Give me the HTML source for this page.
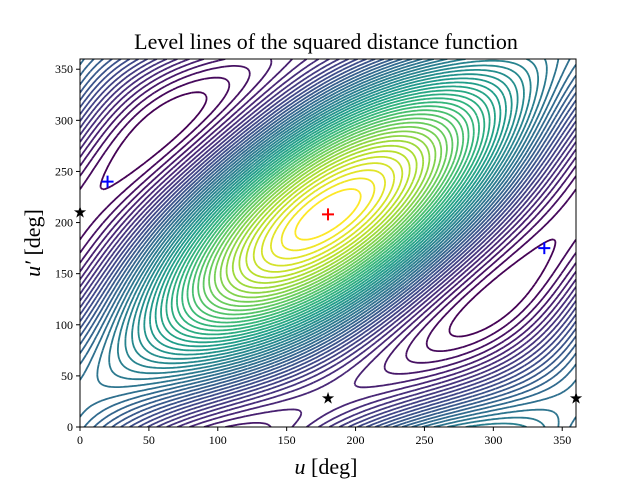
<!DOCTYPE html>
<html><head><meta charset="utf-8"><style>
body{margin:0;background:#fff;width:640px;height:480px;overflow:hidden}
text{font-family:"Liberation Serif",serif}
</style></head><body>
<svg id="chart" width="640" height="480" xmlns="http://www.w3.org/2000/svg">
<rect width="640" height="480" fill="#fff"/>
<text x="326" y="49" text-anchor="middle" font-size="22">Level lines of the squared distance function</text>
<text x="326" y="474" text-anchor="middle" font-size="22"><tspan font-style="italic">u</tspan> [deg]</text>
<text transform="translate(40,243) rotate(-90)" text-anchor="middle" font-size="22"><tspan font-style="italic">u′</tspan> [deg]</text>
<defs><clipPath id="clip"><rect x="80" y="59" width="496" height="368"/></clipPath></defs>
<g id="contours" clip-path="url(#clip)"></g>
<g id="markers"></g>
<rect x="80" y="59" width="496" height="368" fill="none" stroke="#000" stroke-width="1"/>
<g id="ticks"></g>
</svg>
<script>
// f = c*cos(u-v+phi) + a*cos(u-ua) + b*cos(v-vb) + d*cos(u+v-s)
const coefC=[1.0, 28];
const coefA=[0.55, 180];
const coefB=[0.42, 208];
const coefD=[0.034, 208];
const nLevels=48;
const xTicks=[0,50,100,150,200,250,300,350];
const yTicks=[0,50,100,150,200,250,300,350];
const redPlus=[[180,208]];
const bluePlus=[[20,240],[337,175]];
const stars=[[0,210],[180,28],[360,28]];

const X0=80,X1=576,Y0=427,Y1=59;
const sx=v=>X0+(X1-X0)*v/360, sy=v=>Y0-(Y0-Y1)*v/360;
const R=Math.PI/180;
function f(u,v){return coefC[0]*Math.cos((u-v+coefC[1])*R)+coefA[0]*Math.cos((u-coefA[1])*R)+coefB[0]*Math.cos((v-coefB[1])*R)+coefD[0]*Math.cos((u+v-coefD[1])*R);}
const vir=["#440154","#482878","#3e4989","#31688e","#26828e","#1f9e89","#35b779","#6ece58","#b5de2b","#fde725"];
function hx(h){return [1,3,5].map(i=>parseInt(h.substr(i,2),16));}
function col(t){t=Math.max(0,Math.min(1,t))*(vir.length-1);const i=Math.min(Math.floor(t),vir.length-2),fr=t-i;const a=hx(vir[i]),b=hx(vir[i+1]);return `rgb(${a.map((x,k)=>Math.round(x+(b[k]-x)*fr)).join(',')})`;}
const N=240,step=360/N,G=[];
let mn=1e9,mx=-1e9;
for(let j=0;j<=N;j++){G[j]=[];for(let i=0;i<=N;i++){const z=f(i*step,j*step);G[j][i]=z;mn=Math.min(mn,z);mx=Math.max(mx,z);}}
const svgNS="http://www.w3.org/2000/svg",g=document.getElementById('contours');
for(let k=1;k<=nLevels;k++){
 const L=mn+(mx-mn)*k/(nLevels+1);let d="";
 for(let j=0;j<N;j++)for(let i=0;i<N;i++){
  const z=[G[j][i],G[j][i+1],G[j+1][i+1],G[j+1][i]];
  const p=[[i,j],[i+1,j],[i+1,j+1],[i,j+1]];const pts=[];
  for(let e=0;e<4;e++){const a=z[e],b=z[(e+1)%4];if((a<L)!==(b<L)){const t=(L-a)/(b-a);const pa=p[e],pb=p[(e+1)%4];pts.push([(pa[0]+(pb[0]-pa[0])*t)*step,(pa[1]+(pb[1]-pa[1])*t)*step]);}}
  for(let q=0;q+1<pts.length;q+=2)d+=`M${sx(pts[q][0]).toFixed(1)},${sy(pts[q][1]).toFixed(1)}L${sx(pts[q+1][0]).toFixed(1)},${sy(pts[q+1][1]).toFixed(1)}`;
 }
 const path=document.createElementNS(svgNS,'path');
 
 
 path.setAttribute('d',d);path.setAttribute('stroke',col((k-1)/(nLevels-1)));path.setAttribute('stroke-width','1.8');path.setAttribute('fill','none');
 g.appendChild(path);
}
const m=document.getElementById('markers');
function plus(p,c){const el=document.createElementNS(svgNS,'path');
 
 
 const x=sx(p[0]),y=sy(p[1]);el.setAttribute('d',`M${x-6},${y}H${x+6}M${x},${y-6}V${y+6}`);el.setAttribute('stroke',c);el.setAttribute('stroke-width','2');m.appendChild(el);}
redPlus.forEach(p=>plus(p,'#f00'));bluePlus.forEach(p=>plus(p,'#00f'));
stars.forEach(p=>{const el=document.createElementNS(svgNS,'text');
 
 
 el.setAttribute('x',sx(p[0]));el.setAttribute('y',sy(p[1])+5);el.setAttribute('text-anchor','middle');el.setAttribute('font-size','16');el.setAttribute('style','font-family:"DejaVu Sans",sans-serif');el.textContent='★';m.appendChild(el);});
const t=document.getElementById('ticks');
xTicks.forEach(v=>{const x=sx(v);const l=document.createElementNS(svgNS,'line');
 
 
 l.setAttribute('x1',x);l.setAttribute('x2',x);l.setAttribute('y1',Y0);l.setAttribute('y2',Y0+4);l.setAttribute('stroke','#000');t.appendChild(l);
 const tx=document.createElementNS(svgNS,'text');
 
 
 tx.setAttribute('x',x);tx.setAttribute('y',Y0+17);tx.setAttribute('text-anchor','middle');tx.setAttribute('font-size','12');tx.textContent=v;t.appendChild(tx);});
yTicks.forEach(v=>{const y=sy(v);const l=document.createElementNS(svgNS,'line');
 
 
 l.setAttribute('x1',X0-4);l.setAttribute('x2',X0);l.setAttribute('y1',y);l.setAttribute('y2',y);l.setAttribute('stroke','#000');t.appendChild(l);
 const tx=document.createElementNS(svgNS,'text');
 
 
 tx.setAttribute('x',X0-7);tx.setAttribute('y',y+4);tx.setAttribute('text-anchor','end');tx.setAttribute('font-size','12');tx.textContent=v;t.appendChild(tx);});
</script>
</body></html>
